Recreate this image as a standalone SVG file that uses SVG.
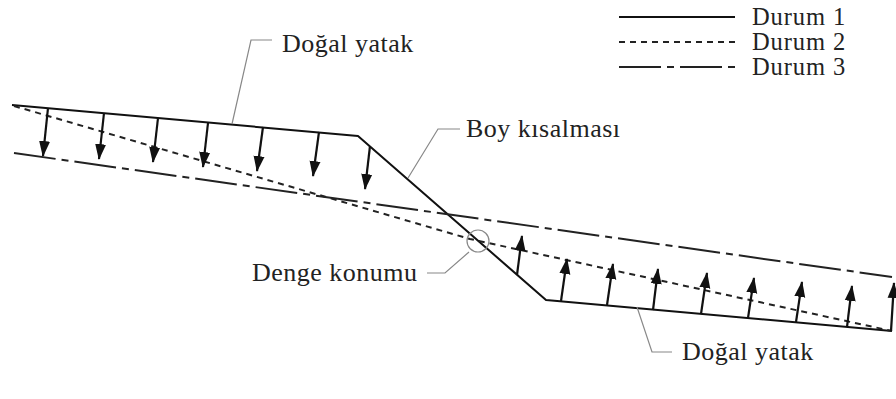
<svg xmlns="http://www.w3.org/2000/svg" width="896" height="399" viewBox="0 0 896 399">
  <style>
    .label { font-family: "Liberation Serif", "Times New Roman", serif; font-size: 26px; letter-spacing: 0.5px; fill: #222; }
    .legend-text { font-family: "Liberation Serif", "Times New Roman", serif; font-size: 24.5px; letter-spacing: 0.9px; fill: #222; }
    .s1 { fill: none; stroke: #111; stroke-width: 2; stroke-linejoin: round; }
    .s2 { fill: none; stroke: #222; stroke-width: 2; stroke-dasharray: 6 5; }
    .s3 { fill: none; stroke: #222; stroke-width: 2; stroke-dasharray: 42 6 7 6; }
    .lead { fill: none; stroke: #888; stroke-width: 1.2; }
    .arr { fill: none; stroke: #111; stroke-width: 2.2; marker-end: url(#head); }
  </style>
  <defs>
    <!-- solid arrowhead, tip at the end point of each shaft -->
    <marker id="head" viewBox="0 0 16 12" refX="15" refY="6" markerWidth="16" markerHeight="12" markerUnits="userSpaceOnUse" orient="auto">
      <path d="M0,0.5 L16,6 L0,11.5 Z" fill="#111"/>
    </marker>
  </defs>
  <rect width="896" height="399" fill="#fff"/>

  <!-- legend -->
  <g id="legend">
    <line class="s1" x1="619" y1="17" x2="735" y2="17"/>
    <text class="legend-text" x="752" y="25">Durum 1</text>
    <line class="s2" x1="619" y1="42" x2="735" y2="42"/>
    <text class="legend-text" x="752" y="50">Durum 2</text>
    <line class="s3" x1="619" y1="67" x2="735" y2="67"/>
    <text class="legend-text" x="752" y="75">Durum 3</text>
  </g>

  <!-- bed profiles -->
  <g id="profiles">
    <polyline id="durum1" class="s1" points="12,105 358,136 546,300 892,331"/>
    <polyline id="durum2" class="s2" points="14,106 470,239 892,331"/>
    <line id="durum3" class="s3" x1="14" y1="153" x2="892" y2="277"/>
  </g>

  <!-- load arrows -->
  <g id="arrows">
    <line class="arr" x1="48" y1="108" x2="43" y2="156"/>
    <line class="arr" x1="104" y1="113" x2="99" y2="159"/>
    <line class="arr" x1="158" y1="118" x2="153" y2="162"/>
    <line class="arr" x1="208" y1="123" x2="203" y2="167"/>
    <line class="arr" x1="263" y1="127" x2="257" y2="171"/>
    <line class="arr" x1="319" y1="132" x2="313" y2="176"/>
    <line class="arr" x1="370" y1="146" x2="365" y2="189"/>

    <line class="arr" x1="517" y1="275" x2="522" y2="236"/>
    <line class="arr" x1="561" y1="301" x2="567" y2="259"/>
    <line class="arr" x1="607" y1="305" x2="613" y2="264"/>
    <line class="arr" x1="653" y1="310" x2="658" y2="269"/>
    <line class="arr" x1="701" y1="314" x2="707" y2="273"/>
    <line class="arr" x1="748" y1="318" x2="754" y2="278"/>
    <line class="arr" x1="796" y1="322" x2="802" y2="282"/>
    <line class="arr" x1="847" y1="327" x2="852" y2="286"/>
    <line class="arr" x1="891" y1="331" x2="894" y2="283"/>
  </g>

  <!-- annotations -->
  <g id="label-dogal-ust">
    <polyline class="lead" points="232,124 251,40 272,40"/>
    <text class="label" x="282" y="52">Doğal yatak</text>
  </g>
  <g id="label-boy">
    <polyline class="lead" points="408,178 438,129 460,129"/>
    <text class="label" x="466" y="137">Boy kısalması</text>
  </g>
  <g id="label-denge">
    <circle class="lead" cx="478" cy="241" r="11"/>
    <polyline class="lead" points="469,252 445,273 427,273"/>
    <text class="label" x="252" y="281">Denge konumu</text>
  </g>
  <g id="label-dogal-alt">
    <polyline class="lead" points="637,307 652,352 672,352"/>
    <text class="label" x="682" y="360">Doğal yatak</text>
  </g>
</svg>
